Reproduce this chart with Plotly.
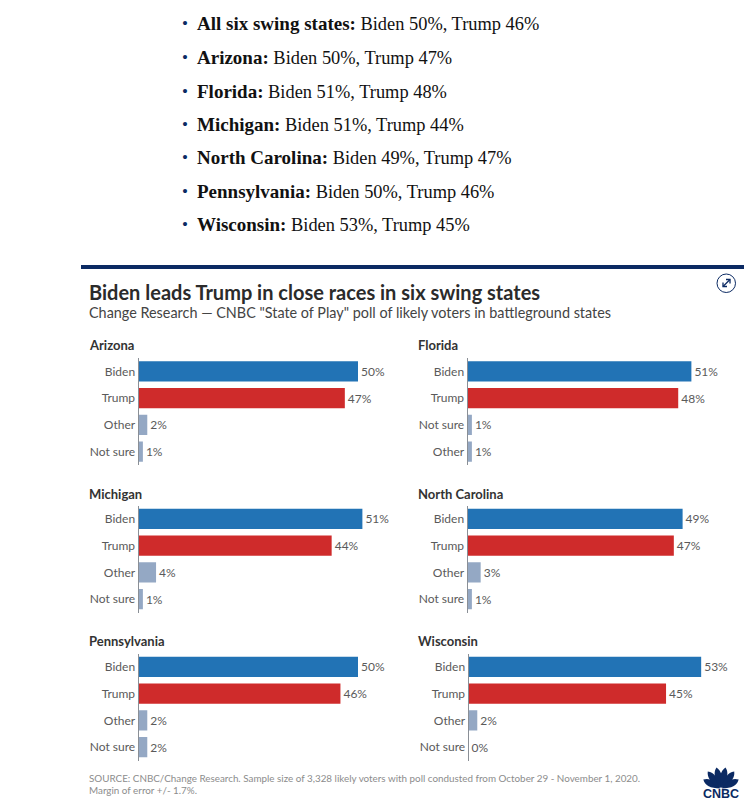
import math
import plotly.graph_objects as go

W, H = 755, 804

bullet_states = ["All six swing states:", "Arizona:", "Florida:", "Michigan:", "North Carolina:", "Pennsylvania:", "Wisconsin:"]
bullet_results = ["Biden 50%, Trump 46%", "Biden 50%, Trump 47%", "Biden 51%, Trump 48%", "Biden 51%, Trump 44%",
                  "Biden 49%, Trump 47%", "Biden 50%, Trump 46%", "Biden 53%, Trump 45%"]
bullet_y = [24, 58, 91, 125, 158, 191.6, 225]

panel_titles = ["Arizona", "Florida", "Michigan", "North Carolina", "Pennsylvania", "Wisconsin"]
panel_categories = [
    ["Biden", "Trump", "Other", "Not sure"],
    ["Biden", "Trump", "Not sure", "Other"],
    ["Biden", "Trump", "Other", "Not sure"],
    ["Biden", "Trump", "Other", "Not sure"],
    ["Biden", "Trump", "Other", "Not sure"],
    ["Biden", "Trump", "Other", "Not sure"],
]
panel_values = [
    [50, 47, 2, 1],
    [51, 48, 1, 1],
    [51, 44, 4, 1],
    [49, 47, 3, 1],
    [50, 46, 2, 2],
    [53, 45, 2, 0],
]
panel_left = [138.5, 467.5, 138.5, 467.5, 138.5, 468.5]
panel_top = [358, 358, 505.5, 505.5, 653.5, 653.5]
panel_title_y = [345, 345, 494, 494, 641, 641]
panel_title_x = [87.5, 416.5, 87.5, 416.5, 87.5, 416.5]

title = "Biden leads Trump in close races in six swing states"
subtitle = 'Change Research — CNBC "State of Play" poll of likely voters in battleground states'
source_lines = ["SOURCE: CNBC/Change Research. Sample size of 3,328 likely voters with poll condusted from October 29 - November 1, 2020.",
                "Margin of error +/- 1.7%."]

BLUE, RED, GREY, NAVY = "#2273b5", "#cf2b2b", "#94a8c4", "#0b2a63"
SANS = "Lato, 'Open Sans', sans-serif"
PX_PER_PCT = 4.39
PANEL_W, PANEL_H = 270, 107


def fx(px):
    return px / W


def fy(py):
    return 1 - py / H


fig = go.Figure()
annotations = []
shapes = []


def label(x, y, text, size, color, font=SANS, anchor="left"):
    annotations.append(dict(x=fx(x), y=fy(y), xref="paper", yref="paper", text=text, showarrow=False,
                            xanchor=anchor, yanchor="middle", align="left", borderpad=0,
                            font=dict(size=size, color=color, family=font)))


for i, (cats, vals) in enumerate(zip(panel_categories, panel_values)):
    suffix = "" if i == 0 else str(i + 1)
    colors = [BLUE, RED, GREY, GREY]
    fig.add_trace(go.Bar(
        x=vals, y=cats, orientation="h", marker=dict(color=colors, line=dict(width=0)),
        text=[f"{v}%" for v in vals], textposition="outside", cliponaxis=False,
        textfont=dict(size=12, color="#5a5a5a", family=SANS),
        xaxis=f"x{suffix}", yaxis=f"y{suffix}", showlegend=False, hoverinfo="skip", width=0.75,
    ))
    l, t = panel_left[i], panel_top[i]
    fig.update_layout({
        f"xaxis{suffix}": dict(domain=[fx(l), fx(l + PANEL_W)], range=[0, PANEL_W / PX_PER_PCT], visible=False,
                               anchor=f"y{suffix}"),
        f"yaxis{suffix}": dict(domain=[fy(t + PANEL_H), fy(t)], autorange="reversed", anchor=f"x{suffix}",
                               categoryorder="array", categoryarray=cats, showline=True, linecolor="#8a8f96",
                               linewidth=1, ticks="", showgrid=False, zeroline=False, ticklabelstandoff=0,
                               tickfont=dict(size=12, color="#5a5a5a", family=SANS)),
    })
    label(panel_title_x[i], panel_title_y[i], f"<b>{panel_titles[i]}</b>", 13, "#333333")

SERIF = "'Liberation Serif', serif"
for s, r, y in zip(bullet_states, bullet_results, bullet_y):
    label(180.5, y, "•", 17, NAVY, SERIF)
    label(196, y, f"<span style='font-size:19px'><b>{s}</b></span> {r}", 18.4, "#111111", SERIF)

label(88, 292, f"<b>{title}</b>", 20, "#2b2b2b")
label(88, 312, subtitle, 14.4, "#444444")
label(88, 778, source_lines[0], 9.85, "#8c8c8c")
label(88, 790, source_lines[1], 9.85, "#8c8c8c")

# top rule
shapes.append(dict(type="rect", xref="paper", yref="paper", x0=fx(81), x1=fx(744), y0=fy(269), y1=fy(265),
                   fillcolor=NAVY, line=dict(width=0)))
# expand icon
shapes.append(dict(type="circle", xref="paper", yref="paper", x0=fx(717), x1=fx(735.5), y0=fy(292.5), y1=fy(274),
                   fillcolor="rgba(0,0,0,0)", line=dict(color=NAVY, width=1)))


def pp(points):
    return "M" + " L".join(f"{fx(a):.5f},{fy(b):.5f}" for a, b in points)


for pts in ([(723, 286.5), (730, 279.5)], [(726, 279.5), (730, 279.5), (730, 283.5)], [(723, 282.5), (723, 286.5), (727, 286.5)]):
    shapes.append(dict(type="path", xref="paper", yref="paper", path=pp(pts), line=dict(color=NAVY, width=1.3)))

# CNBC peacock
cx, cy = 721, 789
for ang in (-62, -37, -12, 12, 37, 62):
    a = math.radians(ang)
    ux, uy = math.sin(a), -math.cos(a)
    px, py = -uy, ux
    L = 22 if abs(ang) < 50 else 20
    w = 3.4
    tip = (cx + ux * L, cy + uy * L)
    mid = (cx + ux * L * 0.68, cy + uy * L * 0.68)
    base = (cx + ux * 1, cy + uy * 1)
    path = (f"M{fx(base[0]):.5f},{fy(base[1]):.5f} "
            f"Q{fx(mid[0] + px * w * 2):.5f},{fy(mid[1] + py * w * 2):.5f} {fx(tip[0]):.5f},{fy(tip[1]):.5f} "
            f"Q{fx(mid[0] - px * w * 2):.5f},{fy(mid[1] - py * w * 2):.5f} {fx(base[0]):.5f},{fy(base[1]):.5f} Z")
    shapes.append(dict(type="path", xref="paper", yref="paper", path=path, fillcolor=NAVY, line=dict(width=0)))
label(721, 794, "<b>CNBC</b>", 12.5, NAVY, "'Liberation Sans', sans-serif", "center")

fig.update_layout(width=W, height=H, margin=dict(l=0, r=0, t=0, b=0), paper_bgcolor="white", plot_bgcolor="white",
                  annotations=annotations, shapes=shapes, showlegend=False, bargap=0.25)
fig.write_html("out.html", config={"displayModeBar": False},
               post_script="document.body.style.margin='0';document.body.style.overflow='hidden';window.dispatchEvent(new Event('resize'));")
